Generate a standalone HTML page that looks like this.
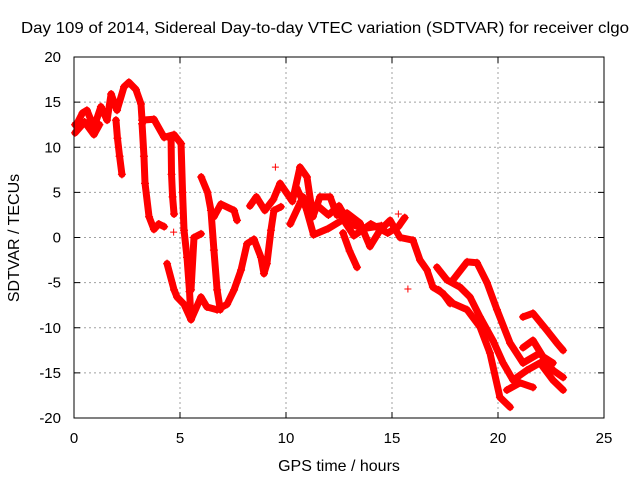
<!DOCTYPE html>
<html><head><meta charset="utf-8"><style>
body{margin:0;background:#fff}
svg{display:block;font-family:"Liberation Sans",sans-serif}
</style></head><body>
<svg id="chart" width="640" height="480" viewBox="0 0 640 480">
<text x="325" y="33" font-size="16" text-anchor="middle" textLength="608" lengthAdjust="spacingAndGlyphs">Day 109 of 2014, Sidereal Day-to-day VTEC variation (SDTVAR) for receiver clgo</text>
<text x="339" y="471" font-size="16" text-anchor="middle">GPS time / hours</text>
<text x="19" y="238" font-size="16" text-anchor="middle" transform="rotate(-90 19 238)">SDTVAR / TECUs</text>
<g id="grid"></g><g id="ticks"></g><g id="marks"></g>
<rect x="74" y="57" width="530" height="361" fill="none" stroke="#000" stroke-width="1"/>
</svg>
<script>
const xTicks=[0,5,10,15,20,25];
const yTicks=[-20,-15,-10,-5,0,5,10,15,20];
const t1=[[0.05,12.5],[0.14,12.6],[0.4,13.8],[0.61,14.1],[0.94,12.2],[1.27,14.5],[1.56,13.0],[1.75,15.9],[2.03,14.1],[2.36,16.7],[2.59,17.2],[2.92,16.4],[3.16,14.8],[3.21,13.0],[3.77,13.1],[4.25,11.1],[4.72,11.4],[5.05,10.4]];
const t1b=[[0.05,11.6],[0.5,12.8],[0.94,11.4],[1.2,12.5]];
const t2=[[1.98,13],[2.05,11],[2.15,9],[2.26,7]];
const t3=[[3.21,12.6],[3.3,9],[3.35,6],[3.54,2.3],[3.77,0.9],[4.0,1.5],[4.25,1.2]];
const t4=[[4.58,10.8],[4.6,7],[4.65,4.5],[4.72,2.6]];
const t5=[[5.05,10.4],[5.12,5],[5.19,0.8],[5.33,-2.2],[5.45,-6],[5.52,-9.1]];
const t6=[[4.39,-2.9],[4.72,-5.8],[4.86,-6.6],[5.19,-7.4],[5.52,-9.1],[5.99,-6.6],[6.27,-7.7],[6.75,-8.0],[7.22,-7.4],[7.55,-5.8],[7.88,-3.6],[8.16,-0.7],[8.49,-0.2],[8.82,-2.2],[8.96,-4.0],[9.10,-2.9],[9.29,0.8],[9.43,3.0],[9.76,3.4]];
const t7=[[5.52,-5.8],[5.66,0],[5.99,0.4]];
const t8=[[6.0,6.7],[6.3,5],[6.46,3.0],[6.60,-1.4],[6.75,-5.8],[6.9,-8]];
const t9=[[6.60,2.3],[6.93,3.7],[7.55,3.0],[7.69,1.9]];
const t10=[[8.3,3.5],[8.6,4.5],[9.0,3.0],[9.4,4.2],[9.72,6.0],[10.3,4.0],[10.66,7.8],[10.99,6.7],[11.27,2.3],[11.6,4.5],[12.08,4.5],[12.4,2.5],[12.88,2.7],[13.49,1.6],[13.96,-1.0],[14.43,0.8],[14.91,1.9],[15.38,0],[15.99,-0.3],[16.32,-2.5],[16.65,-3.6],[16.93,-5.5],[17.41,-6.2],[17.74,-7.3]];
const t11=[[10.2,1.5],[10.8,4.5],[11.3,0.3],[12.0,1.0],[12.7,2.0],[13.2,0.2],[14.0,1.5],[14.8,0.5],[15.3,1.2],[15.6,2.2]];
const t11b=[[10.5,5.5],[11.0,3.0],[11.5,3.5],[12.0,2.5],[12.5,3.5],[13.0,1.5],[13.7,1.0],[14.5,1.3]];
const t12=[[12.69,0.5],[13.0,-1.5],[13.35,-3.3]];
const lineA=[[17.88,-4.7],[18.54,-2.7],[19.01,-2.8],[19.48,-5.0],[19.95,-8.0],[20.57,-11.7],[21.18,-13.9],[21.98,-12.8],[22.59,-14.7],[23.07,-15.5]];
const lineB=[[17.12,-3.3],[17.59,-4.7],[18.21,-5.5],[18.68,-6.6],[19.15,-8.8],[19.76,-11.4],[20.24,-13.9],[20.71,-15.8],[21.37,-14.7],[21.98,-13.9],[22.59,-15.8],[23.07,-16.9]];
const lineC=[[17.2,-5.8],[17.88,-7.3],[18.54,-8.0],[19.15,-9.9],[19.62,-12.8],[20.09,-17.7],[20.57,-18.8]];
const lineC2=[[20.42,-16.9],[21.04,-16.1],[21.65,-16.6]];
const lineD=[[21.18,-8.8],[21.65,-8.4],[22.31,-10.3],[22.78,-11.7],[23.07,-12.5]];
const lineE=[[21.18,-12.2],[21.65,-11.4],[22.12,-13.2],[22.59,-13.9]];
const outliers=[[15.75,-5.7],[9.5,7.8],[15.3,2.6],[4.7,0.6]];
const series=[t1,t1b,t2,t3,t4,t5,t6,t7,t8,t9,t10,t11,t11b,t12,lineA,lineB,lineC,lineC2,lineD,lineE];

const NS="http://www.w3.org/2000/svg";
const X0=74,X1=604,Y0=418,Y1=57;
function sx(v){return X0+(v-0)/(25-0)*(X1-X0);}
function sy(v){return Y0-(v+20)/(40)*(Y0-Y1);}
const grid=document.getElementById('grid'),ticks=document.getElementById('ticks'),marks=document.getElementById('marks');
function mk(tag,attrs,parent){const e=document.createElementNS(NS,tag);for(const k in attrs)e.setAttribute(k,attrs[k]);parent.appendChild(e);return e;}
xTicks.forEach(t=>{
  const x=sx(t);
  if(t>0&&t<25){const g=mk('line',{x1:x,x2:x,y1:Y1,y2:Y0,stroke:'#a0a0a0','stroke-dasharray':'2,3'},grid);
  
  }
  mk('line',{x1:x,x2:x,y1:Y0,y2:Y0-6,stroke:'#000'},ticks);
  mk('line',{x1:x,x2:x,y1:Y1,y2:Y1+6,stroke:'#000'},ticks);
  const l=mk('text',{x:x,y:443,'font-size':15,'text-anchor':'middle'},ticks);l.textContent=t;
  
  
});
yTicks.forEach(t=>{
  const y=sy(t);
  if(t>-20&&t<20){const g=mk('line',{x1:X0,x2:X1,y1:y,y2:y,stroke:'#a0a0a0','stroke-dasharray':'2,3'},grid);
  
  }
  mk('line',{x1:X0,x2:X0+6,y1:y,y2:y,stroke:'#000'},ticks);
  mk('line',{x1:X1,x2:X1-6,y1:y,y2:y,stroke:'#000'},ticks);
  const l=mk('text',{x:61,y:y+5,'font-size':15,'text-anchor':'end'},ticks);l.textContent=t;
  
  
});
series.forEach((s,i)=>{
  const pl=mk('polyline',{points:s.map(p=>sx(p[0])+','+sy(p[1])).join(' '),fill:'none',stroke:'#ff0000','stroke-width':7,'stroke-linejoin':'round','stroke-linecap':'round'},marks);
  
  
  s.forEach(p=>{
    const x=sx(p[0]),y=sy(p[1]);
    const m=mk('path',{d:`M${x-4},${y}h8M${x},${y-4}v8`,stroke:'#ff0000','stroke-width':1.2},marks);
    
    
  });
});
outliers.forEach(p=>{
  const x=sx(p[0]),y=sy(p[1]);
  const m=mk('path',{d:`M${x-3.5},${y}h7M${x},${y-3.5}v7`,stroke:'#ff0000','stroke-width':1},marks);
  
  
});
</script>
</body></html>
